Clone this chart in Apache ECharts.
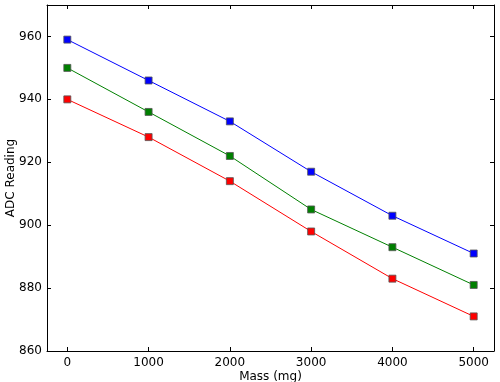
<!DOCTYPE html>
<html><head><meta charset="utf-8">
<script src="https://cdn.jsdelivr.net/npm/echarts@6/dist/echarts.min.js"></script>
<style>html,body{margin:0;padding:0;background:#fff}#c{width:500px;height:382px}</style>
</head><body><div id="c"></div>
<script>
const masses = [0, 1000, 2000, 3000, 4000, 5000];
const blueSeries = [959, 946, 933, 917, 903, 891];
const greenSeries = [950, 936, 922, 905, 893, 881];
const redSeries = [940, 928, 914, 898, 883, 871];
const xTicks = [0, 1000, 2000, 3000, 4000, 5000];

const font = 'DejaVu Sans';
function mk(vals, color) {
  return {
    type: 'line', xAxisIndex: 0, yAxisIndex: 0,
    data: masses.map((m, i) => [m, vals[i]]),
    symbol: 'rect', symbolSize: 7,
    lineStyle: { color: color, width: 1 },
    itemStyle: { color: color, borderColor: '#555', borderWidth: 0.8 },
    animation: false
  };
}
const axisCommon = {
  axisLine: { show: true, onZero: false, lineStyle: { color: '#000', width: 1 } },
  splitLine: { show: false },
};
const chart = echarts.init(document.getElementById('c'));
chart.setOption({
  animation: false,
  grid: { left: 47, right: 6, top: 5, bottom: 31, containLabel: false, outerBoundsMode: 'none' },
  xAxis: [
    Object.assign({}, axisCommon, {
      type: 'value', min: -250, max: 5250, position: 'bottom',
      axisTick: { show: true, inside: true, length: 4, customValues: xTicks, lineStyle: { color: '#000' } },
      axisLabel: { customValues: xTicks, formatter: v => String(v), color: '#000', fontFamily: font, fontSize: 12, margin: 6 },
      name: 'Mass (mg)', nameLocation: 'middle', nameGap: 20, nameMoveOverlap: false,
      nameTextStyle: { color: '#000', fontFamily: font, fontSize: 12 }
    }),
    Object.assign({}, axisCommon, {
      type: 'value', min: -250, max: 5250, position: 'top',
      axisTick: { show: true, inside: true, length: 4, customValues: xTicks, lineStyle: { color: '#000' } },
      axisLabel: { show: false }
    })
  ],
  yAxis: [
    Object.assign({}, axisCommon, {
      type: 'value', min: 860, max: 970, interval: 20, position: 'left',
      axisTick: { show: true, inside: true, length: 4, lineStyle: { color: '#000' } },
      axisLabel: { formatter: v => String(v), color: '#000', fontFamily: font, fontSize: 12, margin: 5, showMaxLabel: false },
      name: 'ADC Reading', nameLocation: 'middle', nameGap: 30, nameMoveOverlap: false,
      nameTextStyle: { color: '#000', fontFamily: font, fontSize: 12 }
    }),
    Object.assign({}, axisCommon, {
      type: 'value', min: 860, max: 970, interval: 20, position: 'right',
      axisTick: { show: true, inside: true, length: 4, lineStyle: { color: '#000' } },
      axisLabel: { show: false }
    })
  ],
  series: [mk(blueSeries, '#0000ff'), mk(greenSeries, '#008000'), mk(redSeries, '#ff0000')]
});
</script></body></html>
